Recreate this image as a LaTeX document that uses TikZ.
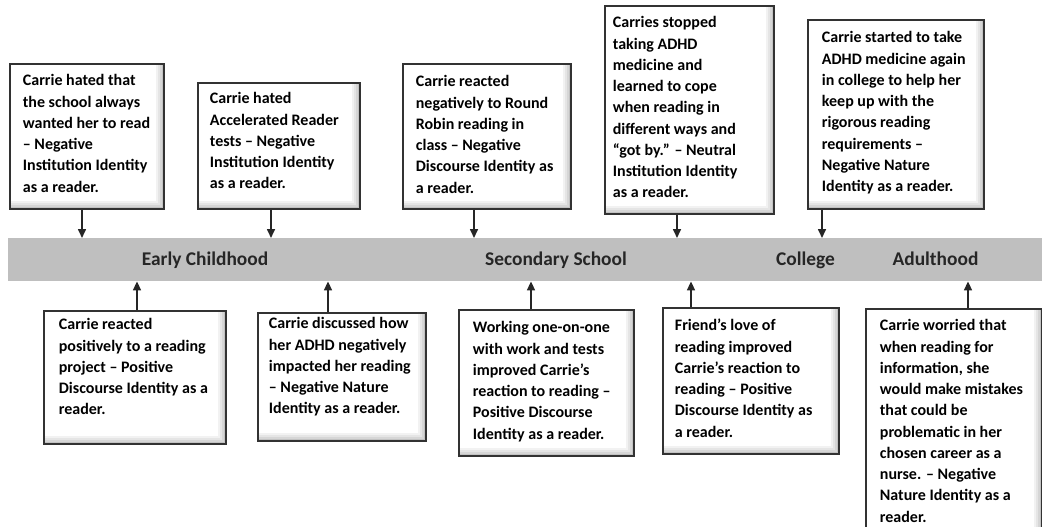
\documentclass[tikz,border=0pt]{standalone}
\usepackage{fontspec}
\setmainfont{Carlito}
\usetikzlibrary{arrows.meta}
\definecolor{bandgray}{RGB}{191,191,191}
\definecolor{boxline}{RGB}{50,50,50}
% width, height, left inset, top pad, text
\newcommand\evtext[5]{\hbox to #1pt{\hspace*{#3pt}\parbox[c][#2pt][t]{\dimexpr #1pt-#3pt\relax}{\raggedright\vspace*{#4pt}\rule{0pt}{12pt}#5}\hss}}
\begin{document}
\begin{tikzpicture}[x=1pt,y=-1pt,
  evbox/.style={draw=boxline, line width=1.8pt, fill=white, inner sep=0pt, anchor=north west,
    font=\fontsize{16}{21.25}\selectfont\bfseries,
    path picture={
      \foreach \k/\c in {8/5,6/10,4/16,2/24}{
        \fill[black!\c] ([yshift=\k pt]path picture bounding box.south west) rectangle (path picture bounding box.south east);
        \fill[black!\c] ([xshift=-\k pt]path picture bounding box.north east) rectangle (path picture bounding box.south east);
      }
    }},
  band/.style={fill=bandgray, draw=none, inner sep=0pt, anchor=north west, minimum width=1040pt, minimum height=43pt},
  lbl/.style={font=\fontsize{19.4}{22}\selectfont\bfseries, anchor=base, inner sep=0pt, text=black!85},
  arr/.style={line width=1.6pt, draw=black!85, -{Triangle[width=8pt,length=9pt]}}]
\useasboundingbox (0,0) rectangle (1042,527);

\node[band] (band) at (8,238) {};
\node[lbl] (l1) at (205,265) {Early Childhood};
\node[lbl] (l2) at (556,265) {Secondary School};
\node[lbl] (l3) at (805.5,265) {College};
\node[lbl] (l4) at (935.5,265) {Adulthood};

% top boxes
\node[evbox] (b1) at (9,63) {\evtext{154}{145}{13}{10}{Carrie hated that\\the school always\\wanted her to read\\– Negative\\Institution Identity\\as a reader.}};
\node[evbox] (b2) at (197,82) {\evtext{162}{126}{12}{9}{Carrie hated\\Accelerated Reader\\tests – Negative\\Institution Identity\\as a reader.}};
\node[evbox] (b3) at (402,63) {\evtext{168}{145}{13}{11}{Carrie reacted\\negatively to Round\\Robin reading in\\class – Negative\\Discourse Identity as\\a reader.}};
\node[evbox] (b4) at (604,5) {\evtext{169}{208}{8}{10}{Carries stopped\\taking ADHD\\medicine and\\learned to cope\\when reading in\\different ways and\\“got by.” – Neutral\\Institution Identity\\as a reader.}};
\node[evbox] (b5) at (807,19) {\evtext{176}{189}{14}{11}{Carrie started to take\\ADHD medicine again\\in college to help her\\keep up with the\\rigorous reading\\requirements –\\Negative Nature\\Identity as a reader.}};

% bottom boxes
\node[evbox] (b6) at (43,310) {\evtext{182}{133}{15}{7}{Carrie reacted\\positively to a reading\\project – Positive\\Discourse Identity as a\\reader.}};
\node[evbox] (b7) at (257,312) {\evtext{168}{128}{11}{4}{Carrie discussed how\\her ADHD negatively\\impacted her reading\\– Negative Nature\\Identity as a reader.}};
\node[evbox] (b8) at (458,309) {\evtext{175}{146}{14}{11}{Working one-on-one\\with work and tests\\improved Carrie’s\\reaction to reading –\\Positive Discourse\\Identity as a reader.}};
\node[evbox] (b9) at (662,307) {\evtext{176}{146}{12}{11}{Friend’s love of\\reading improved\\Carrie’s reaction to\\reading – Positive\\Discourse Identity as\\a reader.}};
\node[evbox] (b10) at (865,308) {\evtext{176}{232}{14}{10}{Carrie worried that\\when reading for\\information, she\\would make mistakes\\that could be\\problematic in her\\chosen career as a\\nurse. – Negative\\Nature Identity as a\\reader.}};

% arrow columns
\coordinate (x1) at (82,0);
\coordinate (x2) at (271,0);
\coordinate (x3) at (474,0);
\coordinate (x4) at (677,0);
\coordinate (x5) at (822,0);
\coordinate (x6) at (137,0);
\coordinate (x7) at (328,0);
\coordinate (x8) at (531,0);
\coordinate (x9) at (691,0);
\coordinate (x10) at (968,0);

\draw[arr] (b1.south -| x1) -- (band.north -| x1);
\draw[arr] (b2.south -| x2) -- (band.north -| x2);
\draw[arr] (b3.south -| x3) -- (band.north -| x3);
\draw[arr] (b4.south -| x4) -- (band.north -| x4);
\draw[arr] (b5.south -| x5) -- (band.north -| x5);
\draw[arr] (b6.north -| x6) -- (band.south -| x6);
\draw[arr] (b7.north -| x7) -- (band.south -| x7);
\draw[arr] (b8.north -| x8) -- (band.south -| x8);
\draw[arr] (b9.north -| x9) -- (band.south -| x9);
\draw[arr] (b10.north -| x10) -- (band.south -| x10);
\end{tikzpicture}
\end{document}
